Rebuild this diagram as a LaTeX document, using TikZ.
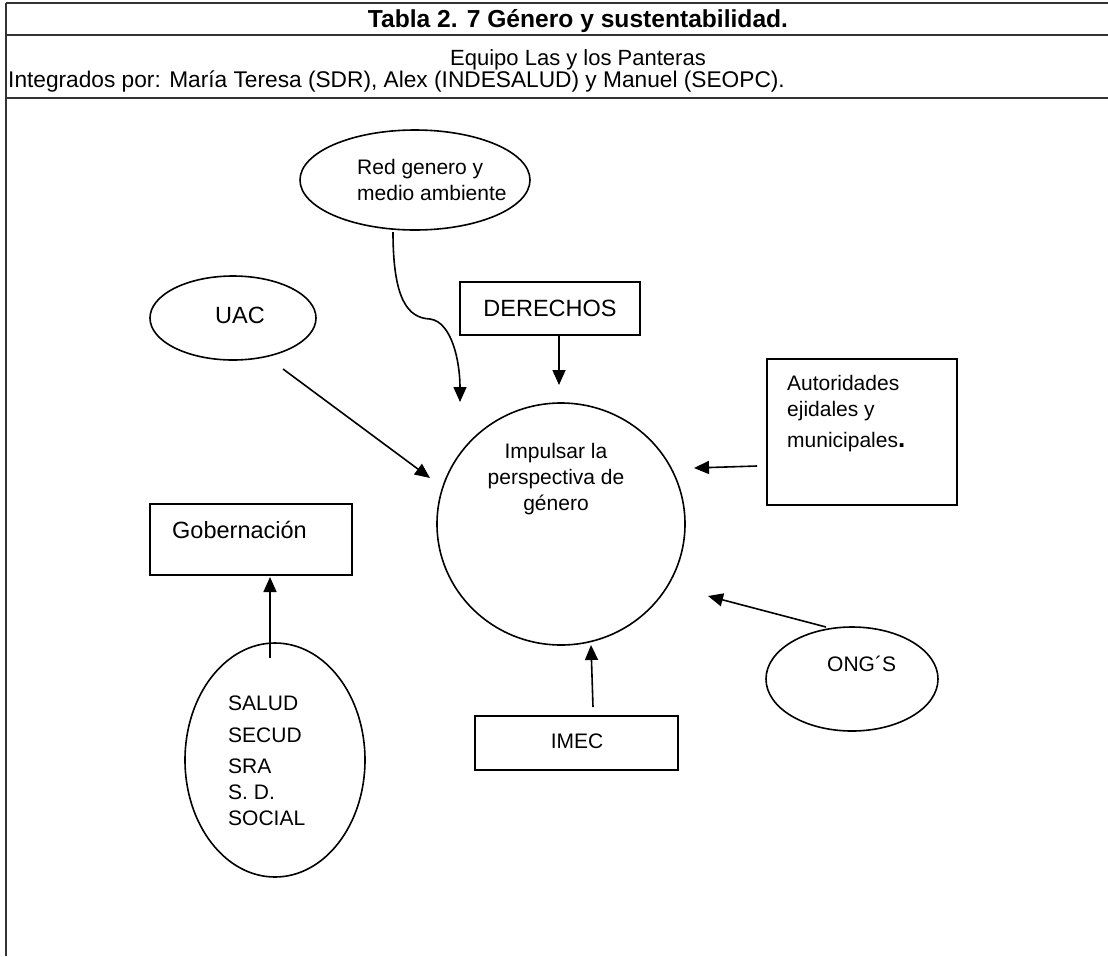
\documentclass[tikz,border=0pt]{standalone}
\usepackage{fontspec}
\setmainfont{Liberation Sans}
\usetikzlibrary{shapes.geometric,arrows.meta}
\begin{document}
\begin{tikzpicture}[x=1pt,y=-1pt,
  shp/.style={draw, line width=1.6pt, inner sep=0pt, outer sep=0pt},
  ell/.style={shp, ellipse},
  box/.style={shp, rectangle},
  arr/.style={-{Triangle[length=15pt,width=13pt]}, line width=1.6pt},
  lbl/.style={font=\fontsize{21}{26}\selectfont, inner sep=0pt, align=left},
  big/.style={font=\fontsize{23.5}{28}\selectfont, inner sep=0pt},
  rule/.style={line width=1.5pt, draw=black!80},
  head/.style={font=\fontsize{22}{26}\selectfont, inner sep=0pt}]
\useasboundingbox (0,0) rectangle (1108,956);
% table frame
\draw[rule] (6,3) -- (1108,3);
\draw[rule] (6,35) -- (1108,35);
\draw[rule] (6,98) -- (1108,98);
\draw[rule] (6,3) -- (6,956);
% header
\node[font=\bfseries\fontsize{24.6}{28}\selectfont, inner sep=0pt, anchor=base] (title) at (578,27) {Tabla 2. 7 Género y sustentabilidad.};
\node[head, anchor=base] (equipo) at (578,65) {Equipo Las y los Panteras};
\node[head, font=\fontsize{22.7}{26}\selectfont, anchor=base west] (integ) at (8,87) {Integrados por: María Teresa (SDR), Alex (INDESALUD) y Manuel (SEOPC).};
% shapes
\node[ell, minimum width=230pt, minimum height=100pt] (red) at (415,180) {};
\node[lbl, anchor=base west] (redt) at (357,200.5) {Red genero y\\medio ambiente};
\node[box, minimum width=180pt, minimum height=53pt, big] (der) at (550,308.5) {DERECHOS};
\node[ell, minimum width=166pt, minimum height=84pt] (uac) at (233,318) {};
\node[big, anchor=base] (uact) at (240,323.5) {UAC};
\node[ell, minimum width=248pt, minimum height=242pt] (cen) at (561,524) {};
\node[lbl, align=center, anchor=base] (cent) at (556,510.5) {Impulsar la\\perspectiva de\\género};
\node[box, minimum width=190pt, minimum height=146pt] (aut) at (862,432) {};
\node[lbl, anchor=base west] (autt) at (787,447.5) {Autoridades\\ejidales y\\[5pt]municipales{\fontsize{26}{26}\selectfont\bfseries.}};
\node[box, minimum width=202pt, minimum height=71pt] (gob) at (251,539.5) {};
\node[big, anchor=base west] (gobt) at (172,538) {Gobernación};
\node[ell, minimum width=180pt, minimum height=234pt] (sal) at (275,760) {};
\node[lbl, anchor=base west] (salt) at (228,825.5) {SALUD\\[6pt]SECUD\\[5pt]SRA\\S. D.\\SOCIAL};
\node[box, minimum width=203pt, minimum height=54pt] (imec) at (576.5,743) {};
\node[lbl, anchor=base] (imect) at (577,748) {IMEC};
\node[ell, minimum width=172pt, minimum height=104pt] (ong) at (852,679) {};
\node[lbl, anchor=base west] (ongt) at (827,671) {ONG´S};
% connectors
\coordinate (redS) at (393,232);
\coordinate (cenRed) at (460,402);
\draw[arr] (redS) .. controls (393,300) and (408,318) .. (430,319)
  .. controls (452,322) and (460,362) .. (cenRed);
\coordinate (derS) at (559,335);
\coordinate (cenDer) at (559,385);
\draw[arr] (derS) -- (cenDer);
\coordinate (uacS) at (283,369);
\coordinate (cenUac) at (430,478);
\draw[arr] (uacS) -- (cenUac);
\coordinate (autS) at (757,466);
\coordinate (cenAut) at (694,468);
\draw[arr] (autS) -- (cenAut);
\coordinate (salN) at (270,658);
\coordinate (gobS) at (270,577);
\draw[arr] (salN) -- (gobS);
\coordinate (imecN) at (593,707);
\coordinate (cenImec) at (591,645);
\draw[arr] (imecN) -- (cenImec);
\coordinate (ongN) at (826,627);
\coordinate (cenOng) at (708,596);
\draw[arr] (ongN) -- (cenOng);
\end{tikzpicture}
\end{document}
